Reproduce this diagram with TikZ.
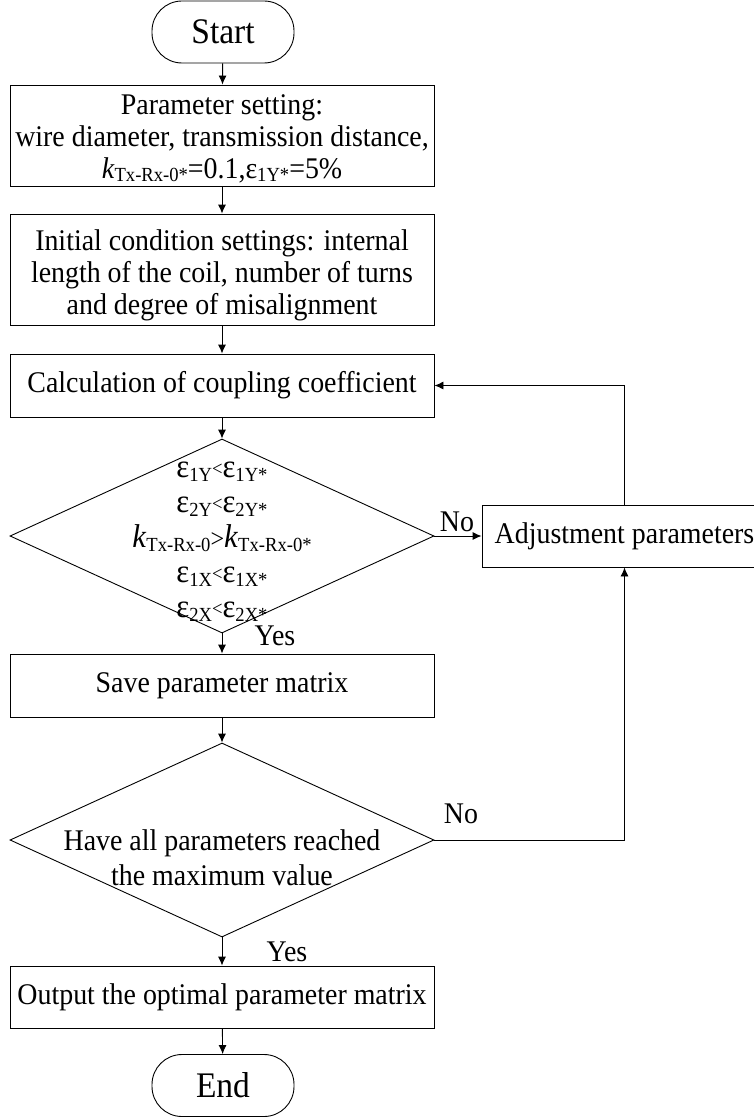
\documentclass[tikz,border=0pt]{standalone}
\usepackage{fontspec}
\setmainfont{Liberation Serif}[FakeStretch=0.93]
\usetikzlibrary{shapes.geometric,arrows.meta}
\newcommand\sbs[1]{\raisebox{-0.12em}{\fontsize{20}{20}\selectfont #1}}
\newcommand\rlt{\raisebox{0.06em}{\fontsize{20}{20}\selectfont <}}
\newcommand\rgt{{\fontsize{26}{26}\selectfont >}}
\begin{document}
\begin{tikzpicture}[x=1pt,y=-1pt,
  every node/.style={font=\fontsize{30}{32}\selectfont},
  txt/.style={align=center, inner sep=0pt, font=\fontsize{30}{32}\selectfont},
  box/.style={draw, line width=0.9pt, minimum width=424pt, inner sep=0pt, align=center},
  term/.style={draw, line width=0.9pt, rounded corners=30pt, minimum width=142pt, minimum height=62pt, inner sep=0pt, font=\fontsize{36}{36}\selectfont},
  decision/.style={draw, diamond, line width=0.9pt, minimum width=424pt, minimum height=194pt, inner sep=0pt},
  arr/.style={-{Latex[length=9pt,width=8pt]}, line width=0.9pt},
  lbl/.style={inner sep=0pt, anchor=base}]
\useasboundingbox (0,0) rectangle (754,1118);
\node[term] (start) at (223,32) {Start};
\node[box, minimum height=101pt, label={[txt, yshift=-3pt]center:{Parameter setting:\\wire diameter, transmission distance,\\\textit{k}\sbs{Tx-Rx-0*}=0.1,ε\sbs{1Y*}=5\%}}] (p1) at (222,135.5) {};
\node[box, minimum height=111pt, label={[txt, yshift=-6pt]center:{Initial condition settings: internal\\length of the coil, number of turns\\and degree of misalignment}}] (p2) at (222,269.5) {};
\node[box, minimum height=63pt] (p3) at (222,385.5) {Calculation of coupling coefficient};
\node[decision, label={[align=center, inner sep=0pt, font=\fontsize{33}{35}\selectfont, yshift=-6pt]center:{ε\sbs{1Y}\rlt ε\sbs{1Y*}\\ε\sbs{2Y}\rlt ε\sbs{2Y*}\\\textit{k}\sbs{Tx-Rx-0}\rgt\textit{k}\sbs{Tx-Rx-0*}\\ε\sbs{1X}\rlt ε\sbs{1X*}\\ε\sbs{2X}\rlt ε\sbs{2X*}}}] (d1) at (222,536) {};
\node[box, minimum height=63pt] (p4) at (222,685.5) {Save parameter matrix};
\node[decision, label={[align=center, inner sep=0pt, font=\fontsize{30}{35}\selectfont, yshift=-18pt]center:{Have all parameters reached\\the maximum value}}] (d2) at (222,840) {};
\node[box, minimum height=62pt] (p5) at (222,997) {Output the optimal parameter matrix};
\node[term] (end) at (223,1085.5) {End};
\node[draw, line width=0.9pt, minimum width=285pt, minimum height=62pt, inner sep=0pt] (adj) at (624.5,536) {Adjustment parameters};
\draw[arr] (start) -- (p1);
\draw[arr] (p1) -- (p2);
\draw[arr] (p2) -- (p3);
\draw[arr] (p3) -- (d1.north);
\draw[arr] (d1.south) -- (p4);
\draw[arr] (p4) -- (d2.north);
\draw[arr] (d2.south) -- (p5);
\draw[arr] (p5) -- (end);
\draw[arr] (d1.east) -- (adj.west);
\draw[arr] (adj.north) |- (p3.east);
\draw[arr] (d2.east) -| (adj.south);
\node[lbl] (no1) at (457,531) {No};
\node[lbl] (yes1) at (275,645) {Yes};
\node[lbl] (no2) at (461,823) {No};
\node[lbl] (yes2) at (287,961) {Yes};
\end{tikzpicture}
\end{document}
